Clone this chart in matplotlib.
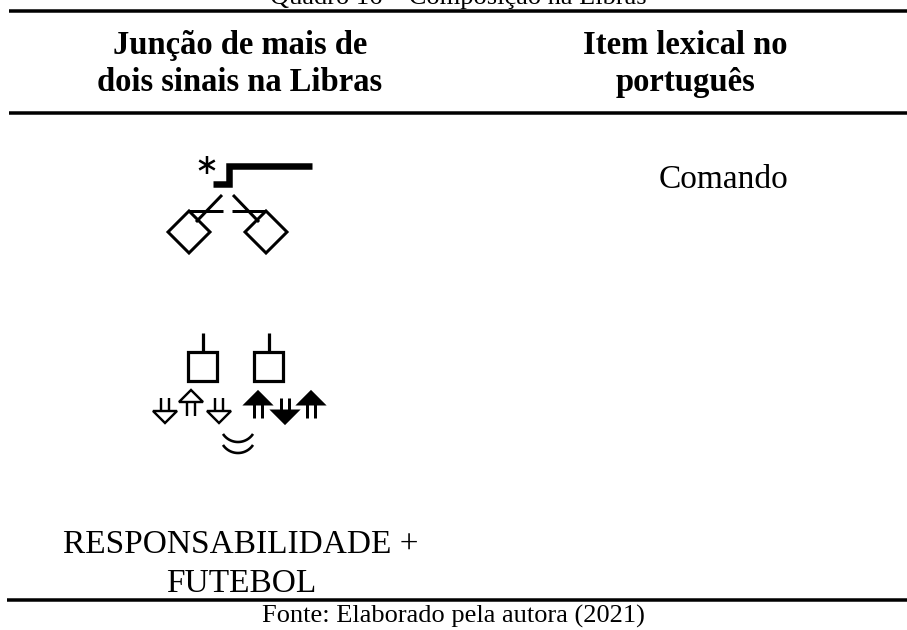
import numpy as np
import matplotlib
matplotlib.use("Agg")
import matplotlib.pyplot as plt
from matplotlib.patches import Polygon

# texts of the table
title = "Quadro 16 – Composição na Libras"
header_left = ["Junção de mais de", "dois sinais na Libras"]
header_right = ["Item lexical no", "português"]
word_right = ["Comando"]
word_left = ["RESPONSABILIDADE +", "FUTEBOL"]
source = "Fonte: Elaborado pela autora (2021)"

SERIF = "Liberation Serif"

fig = plt.figure(figsize=(9.07, 6.30), dpi=100)
ax = fig.add_axes([0, 0, 1, 1])
ax.set_xlim(0, 907)
ax.set_ylim(630, 0)
ax.axis("off")


def lw(px):
    # pixels -> points at dpi 100
    return px * 0.72


def line(xs, ys, w=3, **kw):
    ax.plot(xs, ys, color="black", lw=lw(w), solid_capstyle="butt",
            solid_joinstyle="miter", **kw)


# title (clipped at top) and rules
ax.text(458, 4, title, family=SERIF, fontsize=19, ha="center", va="baseline")
line([9, 907], [10.5, 10.5], 3.5)
line([9, 907], [113, 113], 3.5)
line([7, 907], [599.5, 599.5], 3.5)

# header
for i, s in enumerate(header_left):
    ax.text(240, 54 + 37 * i, s, family=SERIF, weight="bold", fontsize=23.5,
            ha="center", va="baseline")
for i, s in enumerate(header_right):
    ax.text(685, 54 + 37 * i, s, family=SERIF, weight="bold", fontsize=23.5,
            ha="center", va="baseline")

# body text
ax.text(723, 188, word_right[0], family=SERIF, fontsize=24,
        ha="center", va="baseline")
for i, s in enumerate(word_left):
    ax.text(241, 553 + 39 * i, s, family=SERIF, fontsize=24,
            ha="center", va="baseline")
ax.text(453, 623, source, family=SERIF, fontsize=19, ha="center", va="baseline")

# ---- sign 1 (COMANDO) ----
# asterisk
cx, cy, r = 207, 165, 9
for a in (90, 30, 150):
    t = np.deg2rad(a)
    line([cx - r * np.cos(t), cx + r * np.cos(t)],
         [cy - r * np.sin(t), cy + r * np.sin(t)], 2.5)
# step line
line([213, 228.5, 228.5, 312], [183.5, 183.5, 166, 166], 6.5)


def hand(top_x, side):
    # diamond hand with thumb line, side=+1 left hand, -1 mirrored
    d = 21
    ax.add_patch(Polygon([(top_x, 211), (top_x + d, 232), (top_x, 253),
                          (top_x - d, 232)], closed=True, fill=False,
                         ec="black", lw=lw(3), joinstyle="miter"))
    line([top_x, top_x + side * 34], [211, 211], 3)
    line([top_x + side * 33, top_x + side * 7], [195, 222], 3)


hand(189, 1)
hand(266, -1)

# ---- sign 2 (RESPONSABILIDADE + FUTEBOL) ----
for sx in (188, 254):
    ax.add_patch(Polygon([(sx, 352), (sx + 29, 352), (sx + 29, 381), (sx, 381)],
                         closed=True, fill=False, ec="black", lw=lw(3.2),
                         joinstyle="miter"))
    line([sx + 14.5, sx + 14.5], [333, 352], 3.2)


def arrow(x, y0, up, filled):
    hw, hh, g = 12, 12, 4
    w = 3 if filled else 2.4
    if up:
        head = [(x, y0), (x + hw, y0 + hh), (x - hw, y0 + hh)]
        s0, s1 = y0 + hh, y0 + hh + 14
    else:
        s0, s1 = y0, y0 + 13
        head = [(x - hw, s1), (x + hw, s1), (x, s1 + hh)]
    ax.add_patch(Polygon(head, closed=True, fill=filled, fc="black",
                         ec="black", lw=lw(w), joinstyle="miter"))
    for dx in (-g, g):
        line([x + dx, x + dx], [s0, s1], w)


arrow(165, 398, False, False)
arrow(191, 390, True, False)
arrow(219, 398, False, False)
arrow(258, 392, True, True)
arrow(285, 398, False, True)
arrow(311, 392, True, True)

# double arc
rad = 18
half = np.arcsin(15 / rad)
t = np.linspace(np.pi / 2 - half, np.pi / 2 + half, 40)
for yb in (442, 453):
    line(238 + rad * np.cos(t), yb - rad + rad * np.sin(t), 2.6)

fig.savefig("out.png", dpi=100)
